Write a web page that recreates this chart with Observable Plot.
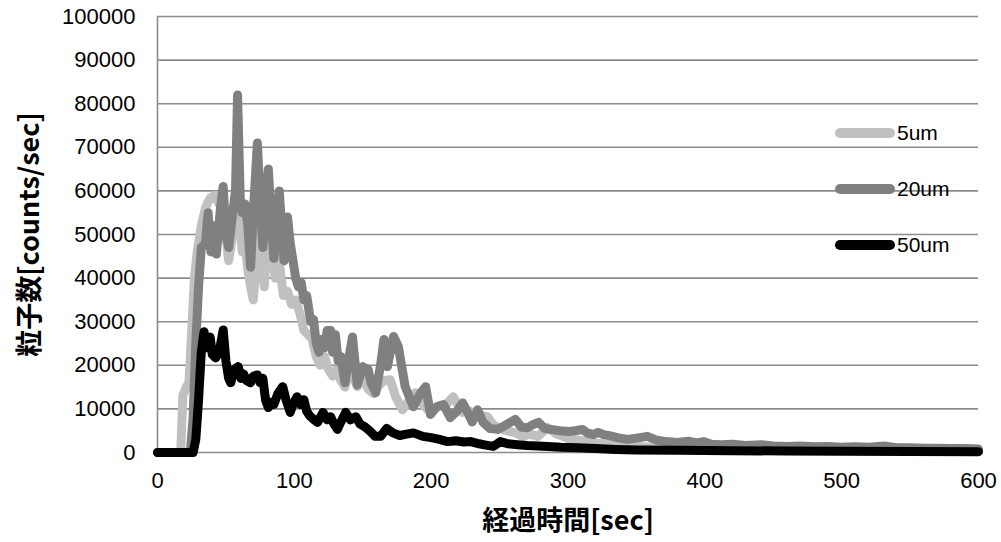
<!DOCTYPE html>
<html><head><meta charset="utf-8">
<script src="https://cdn.jsdelivr.net/npm/d3@7"></script>
<script src="https://cdn.jsdelivr.net/npm/@observablehq/plot@0.6"></script>
<style>
body{margin:0;background:#fff;}
#wrap{position:relative;width:1001px;height:542px;overflow:hidden;}
.lg{position:absolute;left:835px;height:24px;display:flex;align-items:center;font-family:"Liberation Sans",Arial,sans-serif;font-size:21px;color:#000;}
.lg i{display:inline-block;width:60px;height:10px;border-radius:5px;margin-right:2px;}
</style></head><body><div id="wrap"></div>
<script>
// ---- data ----
const seriesNames = ["5um", "20um", "50um"];
const seriesColors = ["#c0c0c0", "#808080", "#000000"];
const xTicks = [0, 100, 200, 300, 400, 500, 600];
const yTicks = [0, 10000, 20000, 30000, 40000, 50000, 60000, 70000, 80000, 90000, 100000];
const xTitle = "経過時間[sec]";
const yTitle = "粒子数[counts/sec]";

const t5 = [0,17,18.5,21,23,25,27,29,32,35,37,39,42,45,48,50,52,54,56,58,60,62,64,66,68,70,72,74,76,78,80,82,84,86,88,90,92,95,98,101,104,107,110,113,116,119,122,125,128,131,134,137,140,143,146,150,154,158,162,166,170,174,179,184,188.5,194,199.5,205,211,216,223,228,235,241,245,250,255,262,267,272,278,285,292,300,310,320,335,350,370,400,450,500,550,600];
const v5 = [0,0,13000,15000,16000,28000,40000,46000,52000,56000,57500,58500,59000,57000,56000,50000,44000,48000,55000,57000,52000,46000,48000,42000,38000,35000,43000,52000,44000,38000,48000,55000,45000,40000,47000,41000,36000,37000,34000,35000,32000,28000,27000,26000,22000,20000,22000,19000,17500,19000,16500,15000,19000,17500,15100,17000,14500,13500,15500,16500,16700,12800,9800,12000,13700,11000,9200,10500,11000,12800,9200,9500,8500,8200,6500,5500,5000,4500,3700,4200,3700,5700,4200,3200,2700,2200,1700,1400,1100,900,700,500,400,300];

const t20 = [0,24,26,28,30,32,35,37,39,41,43,46,48,50,52,55,57,58.5,60.5,62,64,66,68,70,73,75,77,79,81,83,85,87,89,91,92.5,95,97,99,101,103,105,107,109,112,114,116,118,120,122,124,126.5,128,130,132,134,137,140,142.5,146,150,154,156,159.5,163,165.5,168,172.5,176,181,187,192,196,199.5,204,209,214,219,223,227,230,234,238,243,248.5,254,261.5,266,270.5,275,278.5,283,287.5,294,300.5,305,310.5,314,318.5,322,326,331,336,343.5,350,358,365,372,380,388,394,399,405,412,420,430,441,450,460,470,480,490,500,510,520,531,540,550,560,570,580,590,600];
const v20 = [0,0,8000,25000,38000,47000,48000,55000,46000,52000,45500,56000,61000,50000,47000,55000,60000,82000,58000,55000,57000,52000,42500,55000,71000,58000,47000,57000,65000,54000,44500,52000,60000,50000,44000,54000,48000,44000,40000,38000,39000,35000,36000,30000,30500,25000,23000,26000,24000,28000,28000,23000,27000,21000,22000,16000,22000,26500,15500,19700,19000,16000,13700,20000,25900,19700,26600,24300,15100,10500,13500,15100,8700,10500,11000,8000,9500,11400,9000,7000,9800,6900,5500,5300,6200,7600,5800,5700,6500,6900,5500,5300,5000,4800,5000,5300,4500,4100,4600,4100,3800,3400,3000,3300,3700,2800,2500,2300,2600,2200,2500,1900,1800,1900,1600,1800,1500,1400,1500,1300,1400,1200,1300,1200,1500,1100,1100,1000,1000,900,900,800];

const t50 = [0,26,28,30,32,34,36,38.5,40,42.5,45,48,50,52,53.5,56,59,61,63,65,68,70,73,75,77,79,81,83,85,88,91.5,94,97,99,102,104.5,107,109,111,114,117,121,124,126.5,129,131.5,134,137.5,141,145,148,151.5,155,159,163,167.5,172,177,182,187,194,200,206,212,218,224,229,235,240,245.5,250.5,256,263,270,278,285,295,307,320,335,350,380,420,460,500,550,600];
const v50 = [0,0,3000,12000,23000,27700,24000,26500,22500,21700,23000,28100,21000,17000,16000,19000,19700,17000,18000,16500,16000,17500,17800,16000,17000,12000,10300,11500,11000,13500,15100,12000,9200,11000,12800,11000,12100,9500,8500,7600,6900,9200,7500,8200,6500,5300,7000,9200,7500,8200,6500,5900,5000,3700,3700,5500,4500,3900,4200,4500,3700,3400,3000,2500,2700,2400,2500,2000,1700,1400,2500,2000,1800,1600,1500,1400,1200,1100,900,700,600,500,400,350,300,250,200];

// ---- build table ----
const rows = [];
[[t5, v5], [t20, v20], [t50, v50]].forEach(([ts, vs], i) => {
  ts.forEach((t, j) => rows.push({series: seriesNames[i], t, v: vs[j]}));
});

const font = "'Liberation Sans', Arial, sans-serif";
const cjk = "'Noto Sans CJK JP', 'Noto Sans', sans-serif";

const chart = Plot.plot({
  width: 1001,
  height: 542,
  marginLeft: 157,
  marginRight: 23,
  marginTop: 16,
  marginBottom: 90,
  style: {fontFamily: font, fontSize: "22px", color: "#000", background: "#fff"},
  x: {domain: [0, 600]},
  y: {domain: [0, 100000]},
  color: {domain: seriesNames, range: seriesColors},
  marks: [
    Plot.ruleY(yTicks, {stroke: "#8c8c8c", strokeWidth: 1.6}),
    Plot.ruleX([0], {stroke: "#8c8c8c", strokeWidth: 1.6}),
    Plot.axisY({ticks: yTicks, tickSize: 0, tickPadding: 22, tickFormat: d => String(d), label: null, fontSize: 22}),
    Plot.axisX({ticks: xTicks, tickSize: 0, tickPadding: 20, tickFormat: d => String(d), label: null, fontSize: 22}),
    Plot.line(rows, {x: "t", y: "v", z: "series", stroke: "series", strokeWidth: 9, strokeLinejoin: "round", strokeLinecap: "round"}),
    Plot.text([yTitle], {frameAnchor: "left", dx: -127, rotate: -90, fontSize: 27, fontWeight: "bold", fontFamily: cjk, textAnchor: "middle", lineAnchor: "middle", fill: "#000"}),
    Plot.text([xTitle], {frameAnchor: "bottom", dy: 69, fontSize: 27, fontWeight: "bold", fontFamily: cjk, textAnchor: "middle", lineAnchor: "middle", fill: "#000"})
  ]
});
const wrap = document.getElementById("wrap");
wrap.appendChild(chart);

// legend (inside plot area, right side)
const legendTops = [121, 177, 233];
seriesNames.forEach((name, i) => {
  const d = document.createElement("div");
  d.className = "lg";
  d.style.top = legendTops[i] + "px";
  const sw = document.createElement("i");
  sw.style.background = seriesColors[i];
  d.appendChild(sw);
  d.appendChild(document.createTextNode(name));
  wrap.appendChild(d);
});
</script>
</body></html>
